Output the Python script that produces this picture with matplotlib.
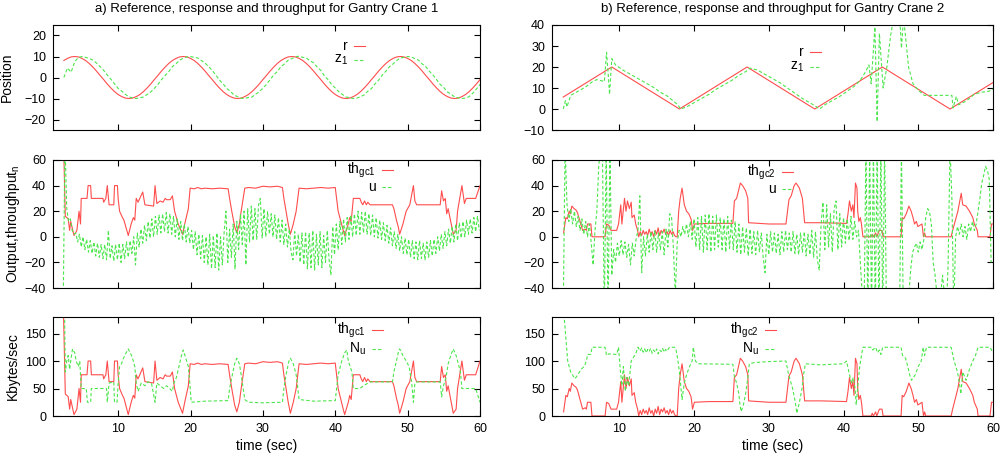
import numpy as np
import matplotlib
matplotlib.use('Agg')
from matplotlib import pyplot as plt
from matplotlib.lines import Line2D

plt.rcParams['font.family'] = ['Liberation Sans', 'DejaVu Sans']
plt.rcParams['mathtext.default'] = 'regular'

RED = '#ff4d4d'
GREEN = '#4ce64c'
KB_PER_UNIT = 2.5   # normalised throughput -> Kbytes/sec

# ---- crane 1, position (sampled every 0.5 s from t=2.5) ----
r1 = [8.1, 9.1, 9.8, 10, 9.8, 9.1, 8.1, 6.7, 5, 3.1, 1, -1, -3.1, -5, -6.7, -8.1, -9.1, -9.8, -10, -9.8,
      -9.1, -8.1, -6.7, -5, -3.1, -1, 1, 3.1, 5, 6.7,
      8.1, 9.1, 9.8, 10, 9.8, 9.1, 8.1, 6.7, 5, 3.1, 1, -1, -3.1, -5, -6.7, -8.1, -9.1, -9.8, -10, -9.8,
      -9.1, -8.1, -6.7, -5, -3.1, -1, 1, 3.1, 5, 6.7,
      8.1, 9.1, 9.8, 10, 9.8, 9.1, 8.1, 6.7, 5, 3.1, 1, -1, -3.1, -5, -6.7, -8.1, -9.1, -9.8, -10, -9.8,
      -9.1, -8.1, -6.7, -5, -3.1, -1, 1, 3.1, 5, 6.7,
      8.1, 9.1, 9.8, 10, 9.8, 9.1, 8.1, 6.7, 5, 3.1, 1, -1, -3.1, -5, -6.7, -8.1, -9.1, -9.8, -10, -9.8,
      -9.1, -8.1, -6.7, -5, -3.1, -1]
z1_c1 = [0, 4.5, 2.5, 7.5, 9.5, 10, 9.6, 9.1, 8.3, 6.9, 5.2, 3.4, 1.2, -0.8, -3, -5.2, -6.5, -8, -9.2, -9.8,
         -10, -9.6, -9.3, -8.1, -6.9, -5.2, -3.3, -1, 1, 2.8, 5.2, 6.5, 8.3, 9.1, 9.8, 10, 9.6, 9.3, 8.1, 6.9,
         5.2, 3.4, 1.2, -1.2, -3, -5.2, -6.5, -8.3, -9.1, -9.9, -10, -9.5, -9.3, -7.9, -6.9, -5, -3.3, -1, 1.2, 2.9,
         5.2, 6.5, 8.3, 9, 9.8, 10.2, 9.6, 9.3, 8, 7, 5, 3.4, 0.8, -1, -3.3, -5, -6.8, -8.1, -9.3, -9.6,
         -10, -9.8, -9.1, -8.3, -6.5, -5.3, -3, -1.2, 1.2, 3, 5.2, 6.5, 8.1, 9.3, 9.6, 10, 9.8, 9, 8.3, 6.5,
         5.2, 3, 1.2, -1, -3.3, -4.8, -6.9, -7.9, -9.3, -9.7, -10, -9.8, -9.1, -7.5, -5.5, -3.3]

# ---- crane 2, position (breakpoints: time, value) ----
r2 = [(2.5, 5.7), (9, 20), (18.05, 0), (27.1, 20), (36.15, 0), (45.2, 20), (54.25, 0), (60, 12.6)]
z1_c2 = [(2.5, 0), (2.8, 4), (3.0, 1), (3.5, 6.5), (4.5, 8.5), (5.5, 10.5), (6.4, 13), (7.0, 14), (7.6, 13.5),
         (8.0, 13), (8.3, 27), (8.55, 15), (8.7, 7), (9.0, 24), (9.5, 21), (10.5, 18.5), (11.5, 16.5),
         (12.5, 14.5), (13.5, 12.5), (14.5, 10.5), (15.5, 8), (16.5, 6), (17.5, 3), (17.85, 2), (18.2, 0),
         (19, 1), (20, 3), (21, 5), (22, 7), (23, 9.5), (24, 11.5), (25, 13.5), (26, 16), (27, 18),
         (27.5, 19.5), (28.5, 18.5), (29.5, 16.5), (30.5, 14.5), (31.5, 12.5), (32.5, 10), (33.5, 7.5),
         (34.5, 5), (35.5, 3), (36.4, 1), (36.8, 0), (37.5, 2), (38.5, 4), (39.5, 6), (40.5, 8.5), (41.5, 11),
         (42.3, 14), (43.0, 18), (43.4, 21), (43.7, 12), (44.2, 39), (44.5, -6), (44.8, 36), (45.3, 10),
         (45.8, 20), (46.3, 35), (46.8, 45), (47.5, 45), (47.75, 29), (48.0, 42), (48.2, 38), (48.7, 20),
         (49.3, 12), (50.0, 9), (50.8, 6.5), (54.5, 6.5), (54.65, 0.5), (55.1, 6), (55.4, 2), (56.5, 4),
         (57.5, 7), (58.5, 8), (59.5, 8.5), (60, 9.5)]

# ---- normalised throughput of each crane (breakpoints) ----
th_gc1 = [(2.45, 75), (2.7, 16), (3.1, 14), (3.3, 5), (3.45, 12), (3.9, 1), (4.3, 5), (4.6, 20), (4.8, 10),
          (4.9, 30), (5.7, 30), (5.85, 40), (6.2, 40), (6.3, 30), (7.9, 30), (8.0, 27), (8.3, 30), (8.5, 40),
          (8.75, 25), (9.4, 25), (9.5, 40), (9.9, 40), (10.0, 30), (10.2, 20), (10.6, 15), (10.8, 13),
          (11.2, 5), (11.4, 1), (11.8, 10), (12.1, 15), (12.3, 13), (12.5, 30), (12.75, 27), (13.4, 35),
          (13.7, 25), (14.9, 24), (15.1, 40), (15.35, 26), (15.8, 28), (16.2, 27), (16.5, 30), (16.7, 29),
          (17.2, 29), (17.5, 32), (17.8, 20), (18.3, 10), (18.75, 4), (18.9, 2), (19.2, 10), (19.7, 22),
          (19.95, 38), (20.5, 37.5), (21, 38.5), (21.5, 37.5), (22, 38), (23, 37.5), (24, 38), (25.2, 37.5),
          (25.4, 30), (25.7, 20), (26.1, 8), (26.4, 3), (26.75, 10), (27.0, 20), (27.5, 38), (28, 38.5),
          (29, 38), (30, 39.5), (31, 39), (32, 39.5), (32.7, 38.5), (32.9, 30), (33.2, 20), (33.5, 10),
          (33.8, 2), (34.2, 10), (34.6, 20), (35.0, 38), (36, 37.5), (37, 38), (38, 38.5), (39, 38),
          (40.0, 38.5), (40.4, 20), (41.1, 5), (41.3, 1), (41.8, 10), (42.0, 15), (42.2, 12), (42.5, 30),
          (43.4, 30), (43.6, 27), (43.8, 25), (44.05, 28), (44.3, 25), (44.5, 27), (44.8, 25), (47.9, 25),
          (48.1, 22), (48.5, 12), (48.7, 8), (48.9, 2), (49.35, 10), (49.8, 20), (50.3, 25), (50.8, 40),
          (51.0, 28), (51.25, 25), (54.5, 25), (54.7, 36), (54.95, 28), (55.2, 30), (55.4, 18), (55.6, 22),
          (55.95, 12), (56.1, 8), (56.3, 2), (56.7, 5), (56.9, 20), (57.5, 40), (57.85, 26), (58.1, 30),
          (59.4, 30), (60.0, 40)]
th_gc2 = [(2.55, 3), (2.85, 15), (3.05, 14), (3.3, 20), (3.45, 18), (3.65, 24), (3.95, 22), (4.2, 21),
          (4.4, 19), (4.65, 14), (4.85, 10), (5.1, 5), (5.45, 6), (5.6, 5), (5.75, 10), (6.2, 10), (6.35, 0),
          (8.1, 0), (8.3, 10), (8.6, 9), (8.9, 5), (9.65, 5), (9.9, 10), (10.2, 25), (10.35, 10), (10.7, 30),
          (10.9, 20), (11.1, 28), (11.35, 22), (11.6, 27), (11.7, 15), (12.0, 17), (12.2, 10), (12.45, 5),
          (12.6, 0), (12.8, 4), (13.0, 1), (13.2, 5), (13.4, 2), (13.6, 4), (13.8, 1), (14.0, 6), (14.2, 2),
          (14.4, 4), (14.6, 0), (14.8, 5), (15.0, 2), (15.2, 7), (15.4, 1), (15.6, 5), (15.8, 3), (16.0, 6),
          (16.2, 2), (16.4, 4), (16.6, 1), (16.8, 5), (17.0, 2), (17.2, 4), (17.4, 1), (17.6, 0), (17.75, 0),
          (17.95, 20), (18.15, 30), (18.4, 38), (18.7, 25), (19.0, 20), (19.3, 18), (19.6, 14), (19.7, 10),
          (19.8, 5), (20.05, 10), (22, 10.5), (25.2, 10.5), (25.4, 28), (25.7, 30), (26.0, 37), (26.2, 42),
          (26.5, 40), (26.9, 36), (27.2, 30), (27.3, 11), (30, 10), (32.3, 10), (32.7, 29), (33.0, 32),
          (33.4, 40), (33.65, 42), (34.1, 38), (34.5, 30), (34.8, 11), (37, 11), (40.4, 10.5), (40.6, 18),
          (40.8, 28), (41.05, 20), (41.25, 25), (41.4, 15), (41.6, 42), (41.8, 38), (41.9, 20), (42.05, 12),
          (42.25, 15), (42.4, 10), (42.6, 0), (43.7, 0), (43.85, 2), (44.0, 0), (44.3, 3), (44.45, 0),
          (44.8, 5), (45.15, 5), (45.3, 0), (47.7, 0), (47.85, 15), (48.05, 14), (48.4, 18), (48.75, 24),
          (49.05, 20), (49.3, 15), (49.5, 10), (49.75, 12), (49.95, 8), (50.5, 10), (50.7, 0), (50.85, 3),
          (51.0, 0), (54.4, 0), (54.6, 5), (55.3, 20), (55.75, 34), (55.95, 25), (56.4, 24), (56.85, 20),
          (57.3, 15), (57.5, 10), (57.9, 5), (58.0, 0), (59.6, 0), (59.8, 10), (60.0, 10)]

# ---- control signal u, sampled every 0.25 s ----
u_c1 = [-60, 75, 22, 12, 14, 5, 2, 3, -4, 2, -8, 0, -10, -2, -12, -3, -13, -4, -15, -5, -16, -6, -17,
        -6, -18, 5, -17, -7, -19, -6, -18, -5, -20, -6, -17, -4, -16, -3, -13, 0, -22, 3, -8, 6, -5, 9, -3,
        12, -1, 14, 0, 16, 2, 17, 3, 18, 4, 19, 3, 18, 2, 16, 0, 14, -2, 12, -3, 10, -4, 8, -5, 5, -10, 4,
        -14, 2, -17, 1, -20, 0, -22, 2, -25, 1, -24, 3, -26, 0, -22, 4, 20, -20, 6, -16, 10, -25, 12, -10,
        18, -6, 20, -22, 22, -4, 24, -3, 22, -2, 25, 30, -1, 22, 0, 20, 2, 18, 0, 17, -2, 15, -4, 13, -6,
        10, -8, 6, -12, -18, 4, -15, 2, -20, 3, -22, 4, -25, 3, -24, 5, -26, 2, -22, 4, -24, 1, -20, 5,
        -18, -30, 8, -14, 10, -10, 12, -6, 14, -4, 15, -2, 17, 0, 18, 1, 20, 2, 19, 3, 20, 2, 18, 1, 17, 0,
        15, -1, 13, -2, 11, -3, 9, -5, 7, -7, 4, -9, 2, -11, 0, -13, -1, -14, -2, -16, -3, -17, -4, -18,
        -3, -17, -5, -18, -4, -16, -3, -15, -2, -13, 0, -11, 2, -9, 4, -7, 6, -5, 8, -4, 10, -3, 11, -1,
        12, 0, 13, 2, 14, 3, 15, 4, 16, 5]
u_c2 = [-60, 70, 26, 12, 22, 10, 20, 8, 16, 5, 14, 2, 12, 0, 10, -5, -22, 5, 20, 55, 70, 65, -60, 70,
        -60, 70, -30, -10, -20, -5, -15, -3, -14, -4, -16, -6, -22, -5, -15, -2, 5, 32, -28, 0, -15, 2,
        -12, 4, -10, 5, -12, 3, -10, 4, -14, 6, -8, 18, 15, -10, -45, -5, 5, 0, 8, 2, 10, 0, 12, -2, 14,
        -8, 15, -10, 16, -12, 17, -10, 18, -12, 16, -10, 17, -8, 15, -10, 14, -12, 16, -9, 13, -10, 12,
        -12, 10, -14, 8, -12, 7, -15, 6, -13, 4, -14, 5, -12, 3, -16, -28, 2, -14, 4, -12, 3, -13, 2, -14,
        4, -12, 5, -10, 3, -12, 4, -13, 2, -14, 3, -12, 4, -15, 2, -14, 5, -16, 4, -18, -26, 10, 27, -10,
        25, -8, 18, -12, 22, 28, -10, 18, -8, 15, -5, 14, -3, 16, -2, 12, 0, 5, -20, -45, -60, 70, -60, 70,
        -60, 70, -60, 70, -60, 70, -60, 70, -60, -60, -60, -60, -60, -60, -60, -60, 70, -60, -60, -60, -45,
        -25, -12, -8, -5, -12, -4, -10, -2, 15, 22, 20, 10, -20, -30, -45, -60, -45, -30, -45, -60, -20,
        70, 30, -60, 0, 8, 2, 10, 0, 8, -2, 10, 4, 12, 5, 10, 20, 30, 42, 48, 55, 52, 45, -20]

# ---- throughput of other nodes, Kbytes/sec (breakpoints) ----
nu_c1 = [(2.6, 185), (2.7, 80), (2.9, 100), (3.1, 110), (3.3, 85), (3.5, 105), (3.7, 122), (4.0, 115),
         (4.2, 100), (4.5, 90), (4.7, 100), (4.9, 50), (5.6, 50), (5.75, 25), (6.2, 25), (6.3, 50),
         (8.4, 50), (8.5, 25), (8.75, 60), (9.4, 62), (9.5, 25), (9.85, 25), (10.0, 60), (10.2, 90),
         (10.45, 95), (10.9, 110), (11.4, 122), (11.85, 110), (12.1, 100), (12.3, 90), (12.5, 60),
         (12.75, 45), (13.2, 60), (13.7, 55), (14.1, 62), (14.6, 60), (15.1, 25), (15.35, 60), (15.8, 55),
         (16.3, 50), (16.7, 55), (17.1, 50), (17.5, 45), (17.7, 60), (18.05, 70), (18.4, 90), (18.75, 110),
         (19.0, 120), (19.35, 105), (19.7, 90), (19.9, 60), (20.1, 25), (22, 27), (25.2, 28), (25.4, 50),
         (25.7, 70), (26.1, 95), (26.4, 105), (26.75, 95), (27.0, 75), (27.5, 30), (28, 25), (30, 24),
         (32.7, 25), (32.9, 50), (33.2, 75), (33.6, 100), (33.8, 105), (34.2, 95), (34.6, 75), (35.0, 30),
         (37, 27), (40.0, 28), (40.4, 75), (40.9, 100), (41.3, 115), (41.6, 120), (41.8, 100), (42.3, 80),
         (42.5, 50), (43.4, 50), (43.9, 55), (44.8, 62), (47.9, 62), (48.1, 80), (48.45, 100), (48.7, 115),
         (48.9, 122), (49.35, 110), (49.8, 100), (50.2, 90), (50.55, 62), (50.8, 25), (51.0, 60),
         (51.25, 62), (54.5, 62), (54.7, 35), (54.95, 55), (55.3, 70), (55.6, 95), (55.95, 110),
         (56.3, 122), (56.7, 110), (57.0, 95), (57.3, 80), (57.5, 50), (59.4, 50), (60.0, 25)]
nu_c2 = [(2.6, 185), (3.1, 100), (3.3, 90), (3.5, 80), (3.75, 75), (4.0, 68), (4.2, 70), (4.45, 75),
         (4.9, 85), (5.3, 90), (5.6, 100), (5.75, 112), (6.2, 112), (6.35, 125), (8.1, 125), (8.3, 110),
         (8.6, 113), (9.65, 112), (9.9, 125), (10.1, 90), (10.35, 55), (10.55, 90), (10.8, 45), (11.0, 70),
         (11.25, 55), (11.6, 100), (11.8, 105), (12.05, 110), (12.25, 115), (12.5, 125), (12.8, 118),
         (13.0, 124), (13.2, 116), (13.4, 122), (13.6, 115), (13.8, 121), (14.0, 117), (14.2, 123),
         (14.4, 114), (14.6, 120), (14.8, 116), (15.0, 122), (15.2, 113), (15.4, 120), (15.6, 117),
         (15.8, 123), (16.0, 116), (16.2, 121), (16.4, 118), (16.7, 125), (17.4, 125), (17.6, 120),
         (17.8, 105), (18.05, 80), (18.4, 30), (18.7, 60), (19.0, 75), (19.4, 90), (19.75, 100), (19.9, 125),
         (20.2, 100), (20.5, 95), (25.2, 94), (25.4, 72), (25.7, 60), (26.0, 40), (26.15, 20), (26.3, 8),
         (26.6, 20), (26.9, 40), (27.2, 70), (27.4, 95), (28, 97), (30, 99), (32.3, 100), (32.65, 75),
         (33.2, 50), (33.55, 25), (33.75, 5), (34.1, 25), (34.45, 50), (34.65, 75), (34.9, 95), (37, 93),
         (40.0, 95), (40.4, 100), (40.8, 75), (41.1, 60), (41.3, 70), (41.55, 50), (41.7, 20), (41.95, 60),
         (42.15, 88), (42.4, 110), (42.6, 125), (43.7, 125), (43.9, 120), (44.3, 125), (44.55, 115),
         (44.8, 120), (45.0, 112), (45.25, 125), (47.7, 125), (47.9, 110), (48.3, 105), (48.6, 90),
         (48.85, 75), (49.1, 65), (49.6, 75), (50.0, 90), (50.4, 100), (50.65, 125), (50.85, 110),
         (51.1, 125), (54.4, 125), (54.8, 100), (55.25, 80), (55.5, 60), (55.7, 40), (55.95, 80),
         (56.4, 65), (56.85, 85), (57.3, 100), (57.65, 110), (58.0, 125), (59.6, 125), (60.0, 115)]


def xy(pts):
    t, v = zip(*pts)
    return np.array(t), np.array(v)


def sampled(vals, start, step):
    return start + step * np.arange(len(vals)), np.array(vals)


def style(ax, ylim, yticks, xlabels=False):
    ax.set_xlim(1, 60)
    ax.set_ylim(*ylim)
    ax.set_xticks([10, 20, 30, 40, 50, 60])
    ax.set_yticks(yticks)
    ax.tick_params(direction='in', top=True, right=True, length=4, width=0.8, labelsize=9, pad=5)
    if not xlabels:
        ax.set_xticklabels([])
    for s in ax.spines.values():
        s.set_linewidth(0.8)


def key(fig, x_px, y_px, labels):
    # gnuplot style key: right aligned text followed by a short line sample
    for i, (lab, col, ls) in enumerate(labels):
        yy = 1 - (y_px[i]) / 457
        fig.text((x_px - 4) / 1000, yy, lab, ha='right', va='center', fontsize=10)
        fig.add_artist(Line2D([(x_px + 2) / 1000, (x_px + 13) / 1000], [yy, yy], color=col,
                              lw=0.8, ls=ls, dashes=(3, 2) if ls == '--' else (None, None)))


fig = plt.figure(figsize=(10, 4.57), dpi=100)
cols = [(0.053, 0.427), (0.552, 0.441)]
rows = [(0.7155, 0.2298), (0.3698, 0.2801), (0.0897, 0.2166)]
axs = [[fig.add_axes([c[0], r[0], c[1], r[1]]) for c in cols] for r in rows]

gkw = dict(color=GREEN, lw=0.8, dashes=(3, 2))
rkw = dict(color=RED, lw=0.8)

# top row: position
ax = axs[0][0]
ax.plot(*sampled(r1, 2.5, 0.5), **rkw)
ax.plot(*sampled(z1_c1, 2.5, 0.5), **gkw)
style(ax, (-25, 25), [-20, -10, 0, 10, 20])
ax.set_ylabel('Position', fontsize=10, labelpad=8)
ax.set_title('a) Reference, response and throughput for Gantry Crane 1', fontsize=9.5, pad=9)

ax = axs[0][1]
ax.plot(*xy(r2), **rkw)
ax.plot(*xy(z1_c2), **gkw)
style(ax, (-10, 40), [-10, 0, 10, 20, 30, 40])
ax.set_title('b) Reference, response and throughput for Gantry Crane 2', fontsize=9.5, pad=9)

# middle row: output and normalised throughput
ax = axs[1][0]
ax.plot(*xy(th_gc1), **rkw)
ax.plot(*sampled(u_c1, 2.4, 0.25), **gkw)
style(ax, (-40, 60), [-40, -20, 0, 20, 40, 60])
ax.set_ylabel('Output,throughput$_n$', fontsize=10, labelpad=2)

ax = axs[1][1]
ax.plot(*xy(th_gc2), **rkw)
ax.plot(*sampled(u_c2, 2.5, 0.25), **gkw)
style(ax, (-40, 60), [-40, -20, 0, 20, 40, 60])

# bottom row: throughput in Kbytes/sec
ax = axs[2][0]
t, v = xy(th_gc1)
ax.plot(t, v * KB_PER_UNIT, **rkw)
ax.plot(*xy(nu_c1), **gkw)
style(ax, (0, 180), [0, 50, 100, 150], xlabels=True)
ax.set_ylabel('Kbytes/sec', fontsize=10, labelpad=4)
ax.set_xlabel('time (sec)', fontsize=10, labelpad=3)

ax = axs[2][1]
t, v = xy(th_gc2)
ax.plot(t, v * KB_PER_UNIT, **rkw)
ax.plot(*xy(nu_c2), **gkw)
style(ax, (0, 180), [0, 50, 100, 150], xlabels=True)
ax.set_xlabel('time (sec)', fontsize=10, labelpad=3)

key(fig, 352, [46, 60], [('r', RED, '-'), ('z$_1$', GREEN, '--')])
key(fig, 808, [52, 67], [('r', RED, '-'), ('z$_1$', GREEN, '--')])
key(fig, 380, [170, 187], [('th$_{gc1}$', RED, '-'), ('u', GREEN, '--')])
key(fig, 780, [172, 189], [('th$_{gc2}$', RED, '-'), ('u', GREEN, '--')])
key(fig, 370, [330, 349], [('th$_{gc1}$', RED, '-'), ('N$_u$', GREEN, '--')])
key(fig, 763, [330, 349], [('th$_{gc2}$', RED, '-'), ('N$_u$', GREEN, '--')])

fig.savefig('out.png', dpi=100)
